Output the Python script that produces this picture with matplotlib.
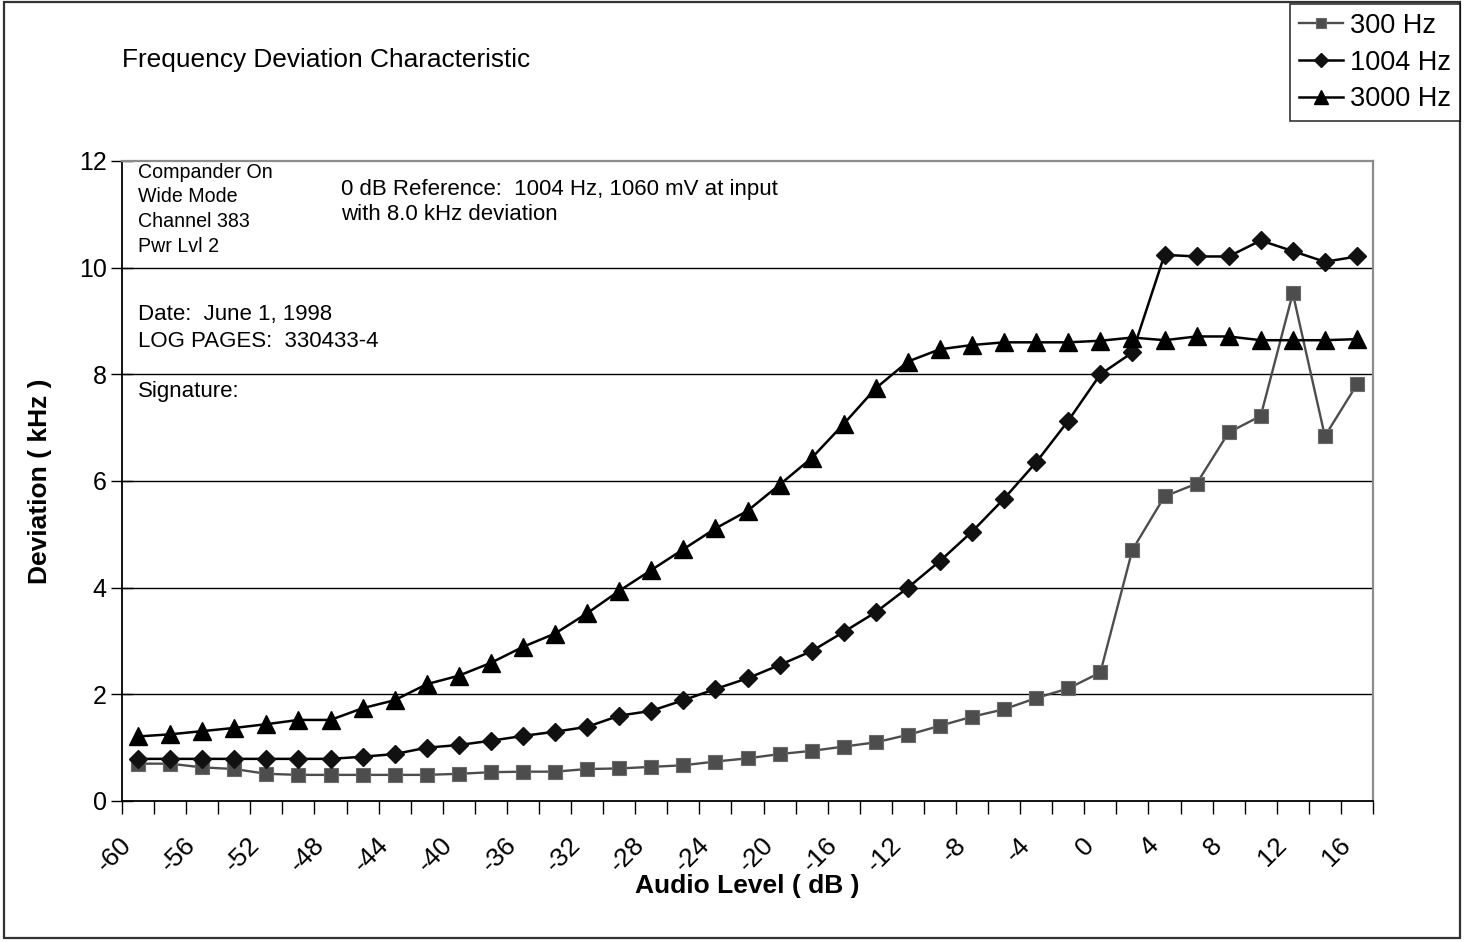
import matplotlib
matplotlib.use("Agg")
import matplotlib.pyplot as plt
from matplotlib.patches import Rectangle
from matplotlib.transforms import ScaledTranslation
import numpy as np

plt.rcParams['font.family'] = ['Liberation Sans', 'DejaVu Sans']

# Audio level categories (dB) and measured deviation (kHz)
audio_level = list(range(-60, 18, 2))
dev_300 = [0.70, 0.70, 0.63, 0.60, 0.51, 0.49, 0.49, 0.49, 0.49, 0.49, 0.51, 0.54, 0.55,
           0.55, 0.60, 0.61, 0.64, 0.67, 0.74, 0.80, 0.88, 0.94, 1.02, 1.10, 1.24, 1.41,
           1.58, 1.72, 1.93, 2.11, 2.41,
           4.71, 5.71, 5.95, 6.91, 7.22, 9.52, 6.84, 7.81]
dev_1004 = [0.79, 0.79, 0.79, 0.79, 0.79, 0.79, 0.79, 0.83, 0.88, 1.00, 1.05, 1.13, 1.22,
            1.30, 1.39, 1.60, 1.69, 1.89, 2.10, 2.30, 2.55, 2.81, 3.17, 3.54, 4.00, 4.50,
            5.05, 5.67, 6.35, 7.13, 8.00, 8.41,
            10.24, 10.21, 10.21, 10.51, 10.31, 10.11, 10.21]
dev_3000 = [1.21, 1.25, 1.31, 1.37, 1.44, 1.52, 1.52, 1.74, 1.89, 2.19, 2.35, 2.59, 2.89,
            3.14, 3.52, 3.94, 4.33, 4.72, 5.11, 5.44, 5.93, 6.43, 7.07, 7.74, 8.24, 8.47,
            8.55, 8.60, 8.60, 8.60, 8.63, 8.69, 8.64, 8.71, 8.71, 8.64, 8.64, 8.64, 8.66]
series_labels = ['300 Hz', '1004 Hz', '3000 Hz']
x_tick_values = list(range(-60, 17, 4))
y_ticks = [0, 2, 4, 6, 8, 10, 12]

W, H = 1469, 942
fig = plt.figure(figsize=(W / 100, H / 100), dpi=100)

def fx(px):
    return px / W

def fy(py):
    return 1 - py / H

# chart-area border
fig.patches.append(Rectangle((fx(4), fy(938)), fx(1460) - fx(4), fy(2) - fy(938),
                             transform=fig.transFigure, fill=False,
                             edgecolor='#333333', linewidth=1.6))

ax = fig.add_axes([fx(122), fy(801), fx(1373) - fx(122), fy(161) - fy(801)])

gray = '#4d4d4d'
l1, = ax.plot(audio_level, dev_300, color=gray, lw=1.7, marker='s', ms=10,
              mfc=gray, mec='#6a6a6a', mew=0.8, zorder=3)
l2, = ax.plot(audio_level, dev_1004, color='black', lw=1.8, marker='D', ms=9.5,
              mfc='#111111', mec='#111111', zorder=4)
l3, = ax.plot(audio_level, dev_3000, color='black', lw=1.8, marker='^', ms=12.5,
              mfc='black', mec='black', zorder=5)

ax.set_xlim(-61, 17)
ax.set_ylim(0, 12)

# horizontal gridlines
for yv in y_ticks[1:-1]:
    ax.axhline(yv, color='black', lw=1.0, zorder=1)

ax.set_yticks(y_ticks)
ax.set_yticklabels([str(v) for v in y_ticks], fontsize=18)
ax.tick_params(axis='y', direction='inout', length=16, width=1.0, pad=3)

ax.set_xticks(x_tick_values)
ax.set_xticklabels([str(v) for v in x_tick_values], fontsize=19, rotation=45,
                   ha='right', va='center', rotation_mode='anchor')
ax.set_xticks(np.arange(-61, 18, 2), minor=True)
ax.tick_params(axis='x', which='major', length=0, pad=29)
ax.tick_params(axis='x', which='minor', direction='out', length=9, width=1.0)
offset = ScaledTranslation(-10 / 100, 0, fig.dpi_scale_trans)
for lab in ax.get_xticklabels():
    lab.set_transform(lab.get_transform() + offset)

for side in ['left', 'bottom']:
    ax.spines[side].set_color('black')
    ax.spines[side].set_linewidth(1.3)
for side in ['top', 'right']:
    ax.spines[side].set_color('#8c8c8c')
    ax.spines[side].set_linewidth(1.6)

ax.set_xlabel('Audio Level ( dB )', fontsize=19, fontweight='bold')
ax.xaxis.set_label_coords(0.5, -(886 - 801) / 640)
ax.xaxis.label.set_va('center')
ax.set_ylabel('Deviation ( kHz )', fontsize=19, fontweight='bold')
ax.yaxis.set_label_coords(-(122 - 40) / 1251, 0.5)
ax.yaxis.label.set_va('center')

# titles and notes
fig.text(fx(122), fy(67), 'Frequency Deviation Characteristic', fontsize=18.9,
         ha='left', va='baseline')
for txt, base in [('Compander On', 178), ('Wide Mode', 202.5),
                  ('Channel 383', 227), ('Pwr Lvl 2', 251.5)]:
    fig.text(fx(138), fy(base), txt, fontsize=14.1, ha='left', va='baseline')
fig.text(fx(341), fy(195), '0 dB Reference:  1004 Hz, 1060 mV at input', fontsize=16,
         ha='left', va='baseline')
fig.text(fx(341), fy(220), 'with 8.0 kHz deviation', fontsize=16,
         ha='left', va='baseline')
fig.text(fx(138), fy(320), 'Date:  June 1, 1998', fontsize=16, ha='left', va='baseline')
fig.text(fx(138), fy(347), 'LOG PAGES:  330433-4', fontsize=16, ha='left', va='baseline')
fig.text(fx(138), fy(397), 'Signature:', fontsize=16, ha='left', va='baseline')

leg = fig.legend([l1, l2, l3], series_labels, loc='upper right',
                 bbox_to_anchor=(fx(1460), fy(4)), bbox_transform=fig.transFigure,
                 fontsize=19.5, frameon=True, fancybox=False, borderaxespad=0,
                 handlelength=1.65, handletextpad=0.26, labelspacing=0.4,
                 borderpad=0.32, markerscale=0.75)
leg.get_frame().set_edgecolor('black')
leg.get_frame().set_linewidth(1.2)

fig.savefig('out.png', dpi=100)
